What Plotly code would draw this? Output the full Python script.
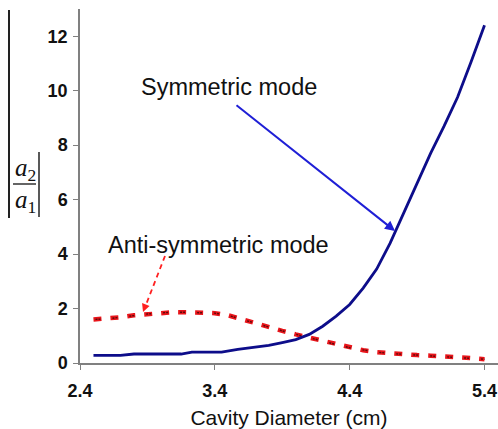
import plotly.graph_objects as go

# ---- data ----
sym_x = [2.5, 2.7, 2.8, 3.15, 3.23, 3.45, 3.57, 3.7, 3.8, 3.9, 4.0, 4.1, 4.2, 4.3,
         4.4, 4.5, 4.6, 4.7, 4.8, 4.9, 5.0, 5.1, 5.2, 5.3, 5.4]
sym_y = [0.28, 0.28, 0.33, 0.33, 0.4, 0.4, 0.5, 0.57, 0.65, 0.75, 0.86, 1.05, 1.35, 1.72,
         2.15, 2.75, 3.45, 4.4, 5.5, 6.65, 7.7, 8.7, 9.76, 11.05, 12.4]

anti_x = [2.5, 2.6, 2.7, 2.8, 2.9, 3.0, 3.1, 3.2, 3.3, 3.4, 3.5, 3.6, 3.7, 3.8, 3.9,
          4.0, 4.1, 4.2, 4.3, 4.4, 4.5, 4.6, 4.7, 4.8, 4.9, 5.0, 5.1, 5.2, 5.3, 5.4]
anti_y = [1.6, 1.62, 1.68, 1.75, 1.8, 1.84, 1.87, 1.86, 1.84, 1.83, 1.75, 1.6, 1.45, 1.32, 1.18,
          1.05, 0.93, 0.8, 0.68, 0.56, 0.47, 0.4, 0.35, 0.32, 0.29, 0.27, 0.25, 0.22, 0.18, 0.14]

x_ticks = [2.4, 3.4, 4.4, 5.4]
x_tick_labels = ["2.4", "3.4", "4.4", "5.4"]
y_ticks = [0, 2, 4, 6, 8, 10, 12]
y_tick_labels = ["0", "2", "4", "6", "8", "10", "12"]

x_title = "Cavity Diameter (cm)"
sym_label = "Symmetric mode"
anti_label = "Anti-symmetric mode"

# ---- layout geometry ----
W, H = 498, 429
ML, MR, MT, MB = 80, 0, 9, 66
PW, PH = W - ML - MR, H - MT - MB


def px(xp):
    return (xp - ML) / PW


def py(yp):
    return (H - MB - yp) / PH


fig = go.Figure()

fig.add_trace(go.Scatter(
    x=anti_x, y=anti_y, mode="lines",
    line=dict(color="#e8141a", width=4.5, dash="8px,9px"),
    hoverinfo="skip", showlegend=False))
fig.add_trace(go.Scatter(
    x=anti_x, y=anti_y, mode="lines",
    line=dict(color="#5a0a0a", width=1.4, dash="0px,2px,2px,1px,2px,10px"),
    hoverinfo="skip", showlegend=False))
fig.add_trace(go.Scatter(
    x=sym_x, y=sym_y, mode="lines",
    line=dict(color="#0d0d8a", width=2.8),
    hoverinfo="skip", showlegend=False))

axis_font = dict(family="Liberation Sans", size=18, color="#111111", weight="bold")

fig.update_layout(
    width=W, height=H,
    margin=dict(l=ML, r=MR, t=MT, b=MB, pad=0),
    paper_bgcolor="white", plot_bgcolor="white",
    showlegend=False,
    xaxis=dict(
        range=[2.4, 5.5], tickvals=x_ticks, ticktext=x_tick_labels,
        ticks="outside", ticklen=5, tickwidth=1.2, tickcolor="#808080",
        showline=True, linecolor="#808080", linewidth=1.5,
        showgrid=False, zeroline=False, tickfont=axis_font, ticklabelstandoff=6,
        title=dict(text=x_title, font=dict(family="Liberation Sans", size=21, color="#111111"),
                   standoff=14),
    ),
    yaxis=dict(
        range=[0, 13], tickvals=y_ticks, ticktext=y_tick_labels,
        ticks="outside", ticklen=5, tickwidth=1.2, tickcolor="#808080",
        showline=True, linecolor="#808080", linewidth=1.5,
        showgrid=False, zeroline=False, tickfont=axis_font, ticklabelstandoff=2,
    ),
)

text_font = dict(family="Liberation Sans", size=23.5, color="#111111")
fig.add_annotation(x=px(229), y=py(87), xref="paper", yref="paper", text=sym_label,
                   showarrow=False, font=text_font, xanchor="center", yanchor="middle")
fig.add_annotation(x=px(218), y=py(245), xref="paper", yref="paper", text=anti_label,
                   showarrow=False, font=text_font, xanchor="center", yanchor="middle")

# blue arrow
fig.add_annotation(x=px(395), y=py(231), xref="paper", yref="paper", text="",
                   showarrow=True, ax=-160, ay=-127, arrowhead=2, arrowsize=1,
                   arrowwidth=2, arrowcolor="#1f1fd6")

# red dashed arrow
tail = (165, 256)
head = (143, 312)
fig.add_shape(type="line", xref="paper", yref="paper",
              x0=px(tail[0]), y0=py(tail[1]), x1=px(head[0] + 2.5), y1=py(head[1] - 6),
              line=dict(color="#ff2020", width=1.8, dash="5px,4px"))
fig.add_annotation(x=px(head[0]), y=py(head[1]), xref="paper", yref="paper", text="",
                   showarrow=True, ax=3, ay=-8, arrowhead=2, arrowsize=1,
                   arrowwidth=1.6, arrowcolor="#ff2020")

# y axis title: |a2 / a1|
serif = dict(family="Liberation Serif", size=25, color="#111111")
fig.add_annotation(x=px(25), y=py(169), xref="paper", yref="paper",
                   text="<i>a</i><sub>2</sub>", showarrow=False, font=serif,
                   xanchor="center", yanchor="middle")
fig.add_annotation(x=px(25), y=py(201), xref="paper", yref="paper",
                   text="<i>a</i><sub>1</sub>", showarrow=False, font=serif,
                   xanchor="center", yanchor="middle")
fig.add_shape(type="line", xref="paper", yref="paper",
              x0=px(13), y0=py(184), x1=px(36), y1=py(184),
              line=dict(color="#111111", width=1.3))
fig.add_shape(type="line", xref="paper", yref="paper",
              x0=px(9), y0=py(10), x1=px(9), y1=py(218),
              line=dict(color="#222222", width=2))
fig.add_shape(type="line", xref="paper", yref="paper",
              x0=px(39), y0=py(152), x1=px(39), y1=py(217),
              line=dict(color="#222222", width=1.5))

fig.write_html("out.html")
